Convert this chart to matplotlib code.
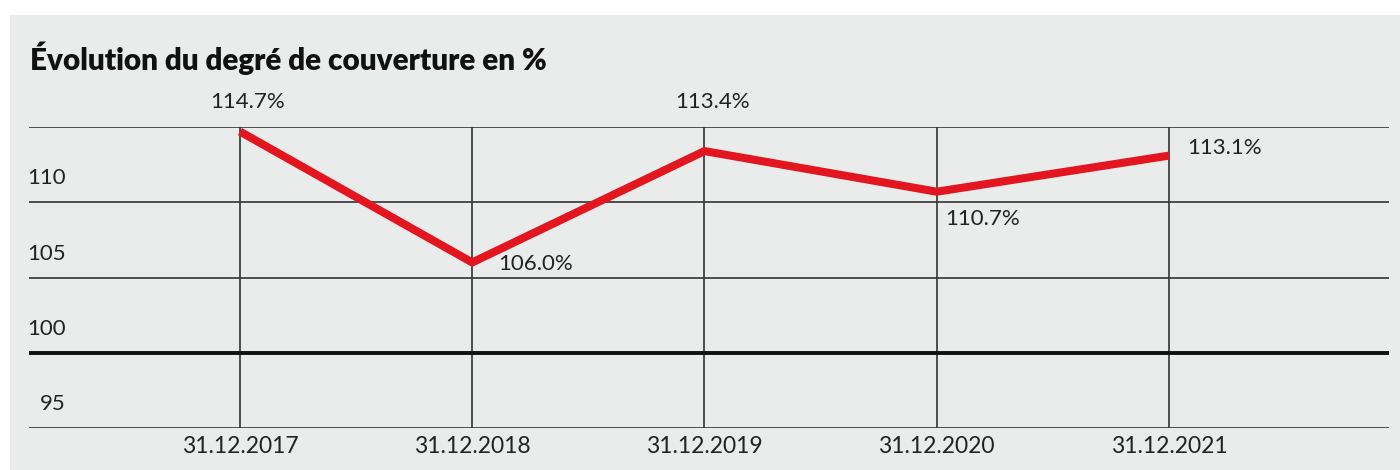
import matplotlib.pyplot as plt
from matplotlib.patches import Rectangle

# data
dates = ["31.12.2017", "31.12.2018", "31.12.2019", "31.12.2020", "31.12.2021"]
coverage = [114.7, 106.0, 113.4, 110.7, 113.1]
y_ticks = [95, 100, 105, 110, 115]
y_labels = ["95", "100", "105", "110", ""]

# label placement (offset pixels from point, alignment)
label_pos = [(8, 30, 'center', 'center'),
             (26, -2, 'left', 'center'),
             (8, 49, 'center', 'center'),
             (8, -27, 'left', 'center'),
             (18, 8, 'left', 'center')]

bg = '#eaebeb'
red = '#e3161f'
grid = '#333333'
plt.rcParams['font.family'] = ['Lato', 'DejaVu Sans']

fig = plt.figure(figsize=(14, 4.7), dpi=100)
fig.patches.append(Rectangle((10 / 1400, 0), 1, 455 / 470, transform=fig.transFigure,
                             facecolor=bg, edgecolor='none', zorder=-5))

ax = fig.add_axes([29 / 1400, 1 - 428 / 470, 1360 / 1400, (428 - 127) / 470])
ax.set_zorder(2)
ax.set_facecolor('none')
for s in ax.spines.values():
    s.set_visible(False)

x = list(range(len(dates)))
ax.set_xlim(-0.908, 4.947)
ax.set_ylim(95, 115)

for yv in y_ticks:
    if yv == 100:
        ax.axhline(yv, color='#111111', lw=2.8, zorder=2)
    else:
        ax.axhline(yv, color=grid, lw=1.2, zorder=1)
for xv in x:
    ax.axvline(xv, color=grid, lw=1.2, zorder=1)

ax.plot(x, coverage, color=red, lw=5.8, solid_joinstyle='miter',
        solid_capstyle='butt', zorder=3)

for xi, v, (dx, dy, ha, va) in zip(x, coverage, label_pos):
    ax.annotate(f"{v:.1f}%", (xi, v), xytext=(dx, dy), textcoords='offset pixels',
                ha=ha, va=va, fontsize=16, color='#222222')

# y labels right aligned, sitting above their gridline
for yv, lab in zip(y_ticks, y_labels):
    ax.annotate(lab, (37 / 1360, yv), xycoords=('axes fraction', 'data'),
                xytext=(0, 24), textcoords='offset pixels',
                ha='right', va='center', fontsize=16, color='#222222')

ax.set_xticks(x)
ax.set_xticklabels(dates, fontsize=16.5, color='#222222')
ax.set_yticks([])
ax.tick_params(axis='x', length=0, pad=6)

fig.text(30 / 1400, 1 - 58 / 470, "Évolution du degré de couverture en %",
         fontsize=21.3, fontweight='heavy', color='#111111', va='center', ha='left')

fig.savefig('out.png', dpi=100)
